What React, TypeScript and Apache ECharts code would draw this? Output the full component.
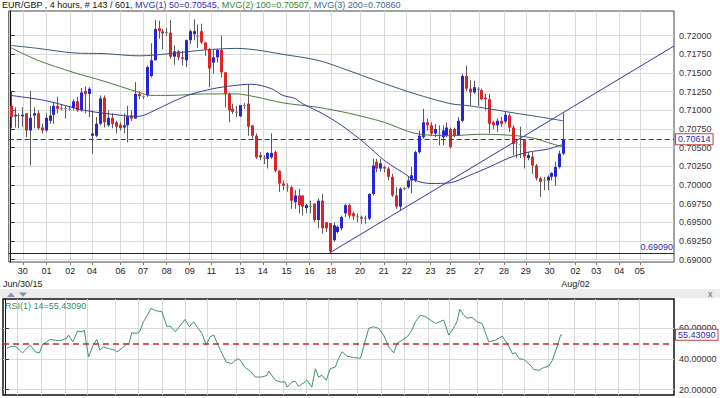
import React, { useEffect, useRef } from 'react';
import * as echarts from 'echarts';

// ---------- data ----------
const pair = 'EUR/GBP';
const timeframe = '4 hours';
const barsShown = 143;
const barsTotal = 601;
const slotCount = 171; // 143 bars + empty space to the right

// [open, close, low, high]
const candles: number[][] = [
  [0.7106, 0.7091, 0.7076, 0.7126], [0.7092, 0.7094, 0.7077, 0.7104], [0.7094, 0.7094, 0.7076, 0.7096], [0.7092, 0.7094, 0.7078, 0.7104],
  [0.7096, 0.7073, 0.7064, 0.7096], [0.7073, 0.7090, 0.7026, 0.7126], [0.7093, 0.7096, 0.7076, 0.7104], [0.7096, 0.7076, 0.7074, 0.7100],
  [0.7077, 0.7073, 0.7069, 0.7082], [0.7073, 0.7090, 0.7071, 0.7096], [0.7086, 0.7093, 0.7082, 0.7106], [0.7094, 0.7106, 0.7082, 0.7111],
  [0.7106, 0.7102, 0.7096, 0.7118], [0.7103, 0.7103, 0.7100, 0.7107], [0.7103, 0.7103, 0.7089, 0.7106], [0.7102, 0.7102, 0.7100, 0.7106],
  [0.7103, 0.7112, 0.7100, 0.7115], [0.7112, 0.7100, 0.7098, 0.7118], [0.7100, 0.7124, 0.7098, 0.7130], [0.7126, 0.7122, 0.7096, 0.7132],
  [0.7122, 0.7129, 0.7091, 0.7131], [0.7066, 0.7069, 0.7042, 0.7100], [0.7066, 0.7082, 0.7064, 0.7091], [0.7082, 0.7116, 0.7080, 0.7120],
  [0.7117, 0.7084, 0.7077, 0.7120], [0.7080, 0.7090, 0.7078, 0.7100], [0.7090, 0.7082, 0.7076, 0.7096], [0.7084, 0.7078, 0.7069, 0.7086],
  [0.7081, 0.7076, 0.7073, 0.7084], [0.7077, 0.7080, 0.7069, 0.7096], [0.7080, 0.7092, 0.7057, 0.7106], [0.7093, 0.7089, 0.7086, 0.7100],
  [0.7089, 0.7122, 0.7089, 0.7138], [0.7122, 0.7119, 0.7115, 0.7126], [0.7119, 0.7119, 0.7115, 0.7120], [0.7120, 0.7158, 0.7118, 0.7160],
  [0.7146, 0.7167, 0.7144, 0.7190], [0.7167, 0.7209, 0.7167, 0.7221], [0.7210, 0.7206, 0.7196, 0.7220], [0.7206, 0.7203, 0.7182, 0.7209],
  [0.7205, 0.7205, 0.7200, 0.7210], [0.7204, 0.7172, 0.7169, 0.7221], [0.7172, 0.7179, 0.7161, 0.7187], [0.7179, 0.7171, 0.7167, 0.7181],
  [0.7171, 0.7169, 0.7160, 0.7180], [0.7167, 0.7194, 0.7158, 0.7195], [0.7194, 0.7206, 0.7189, 0.7208], [0.7202, 0.7206, 0.7194, 0.7222],
  [0.7200, 0.7200, 0.7184, 0.7215], [0.7206, 0.7191, 0.7189, 0.7216], [0.7191, 0.7182, 0.7173, 0.7191], [0.7182, 0.7156, 0.7131, 0.7184],
  [0.7164, 0.7171, 0.7149, 0.7182], [0.7171, 0.7181, 0.7164, 0.7182], [0.7181, 0.7151, 0.7144, 0.7200], [0.7151, 0.7122, 0.7104, 0.7151],
  [0.7122, 0.7100, 0.7084, 0.7124], [0.7102, 0.7098, 0.7095, 0.7109], [0.7098, 0.7098, 0.7091, 0.7106], [0.7092, 0.7107, 0.7091, 0.7107],
  [0.7107, 0.7107, 0.7102, 0.7110], [0.7109, 0.7078, 0.7066, 0.7135], [0.7080, 0.7066, 0.7062, 0.7080], [0.7066, 0.7037, 0.7035, 0.7069],
  [0.7040, 0.7037, 0.7033, 0.7044], [0.7037, 0.7037, 0.7028, 0.7040], [0.7035, 0.7043, 0.7022, 0.7044], [0.7037, 0.7043, 0.7035, 0.7069],
  [0.7044, 0.7019, 0.7017, 0.7046], [0.7019, 0.7002, 0.6991, 0.7020], [0.7002, 0.6999, 0.6993, 0.7006], [0.6998, 0.6998, 0.6991, 0.7002],
  [0.6997, 0.6979, 0.6968, 0.6999], [0.6977, 0.6986, 0.6968, 0.6993], [0.6986, 0.6973, 0.6962, 0.6995], [0.6986, 0.6971, 0.6959, 0.6986],
  [0.6969, 0.6973, 0.6962, 0.6975], [0.6972, 0.6972, 0.6962, 0.6979], [0.6975, 0.6953, 0.6950, 0.6975], [0.6953, 0.6979, 0.6942, 0.6982],
  [0.6979, 0.6942, 0.6935, 0.6988], [0.6950, 0.6942, 0.6937, 0.6950], [0.6949, 0.6911, 0.6909, 0.6949], [0.6926, 0.6946, 0.6924, 0.6950],
  [0.6937, 0.6944, 0.6935, 0.6946], [0.6942, 0.6957, 0.6939, 0.6959], [0.6962, 0.6973, 0.6957, 0.6975], [0.6973, 0.6959, 0.6955, 0.6975],
  [0.6962, 0.6958, 0.6953, 0.6964], [0.6958, 0.6958, 0.6950, 0.6962], [0.6957, 0.6955, 0.6948, 0.6959], [0.6956, 0.6956, 0.6948, 0.6959],
  [0.6955, 0.6988, 0.6953, 0.6989], [0.6988, 0.7026, 0.6986, 0.7035], [0.7031, 0.7022, 0.7017, 0.7035], [0.7022, 0.7029, 0.7018, 0.7035],
  [0.7024, 0.7022, 0.7017, 0.7026], [0.7022, 0.7011, 0.7006, 0.7024], [0.7011, 0.6986, 0.6984, 0.7015], [0.6986, 0.6971, 0.6968, 0.6997],
  [0.6971, 0.6995, 0.6966, 0.6997], [0.6996, 0.6996, 0.6993, 0.6997], [0.6997, 0.7006, 0.6995, 0.7011], [0.7006, 0.7013, 0.6989, 0.7024],
  [0.7006, 0.7044, 0.7004, 0.7046], [0.7044, 0.7066, 0.7042, 0.7073], [0.7064, 0.7084, 0.7062, 0.7102], [0.7084, 0.7080, 0.7073, 0.7089],
  [0.7080, 0.7069, 0.7066, 0.7084], [0.7069, 0.7075, 0.7064, 0.7082], [0.7069, 0.7069, 0.7053, 0.7080], [0.7064, 0.7073, 0.7053, 0.7080],
  [0.7066, 0.7077, 0.7064, 0.7084], [0.7075, 0.7051, 0.7049, 0.7077], [0.7075, 0.7066, 0.7064, 0.7077], [0.7066, 0.7086, 0.7066, 0.7091],
  [0.7086, 0.7146, 0.7084, 0.7149], [0.7146, 0.7129, 0.7126, 0.7160], [0.7129, 0.7124, 0.7106, 0.7140], [0.7124, 0.7131, 0.7122, 0.7140],
  [0.7129, 0.7129, 0.7106, 0.7131], [0.7127, 0.7115, 0.7113, 0.7129], [0.7117, 0.7115, 0.7100, 0.7122], [0.7115, 0.7082, 0.7069, 0.7122],
  [0.7084, 0.7080, 0.7075, 0.7086], [0.7080, 0.7086, 0.7071, 0.7089], [0.7086, 0.7082, 0.7078, 0.7091], [0.7085, 0.7094, 0.7082, 0.7098],
  [0.7093, 0.7077, 0.7071, 0.7096], [0.7077, 0.7055, 0.7040, 0.7080], [0.7057, 0.7057, 0.7036, 0.7062], [0.7055, 0.7055, 0.7036, 0.7078],
  [0.7060, 0.7038, 0.7022, 0.7060], [0.7036, 0.7040, 0.7033, 0.7044], [0.7038, 0.7026, 0.7015, 0.7044], [0.7026, 0.7009, 0.7006, 0.7028],
  [0.7009, 0.7004, 0.6984, 0.7011], [0.7007, 0.7007, 0.6993, 0.7011], [0.7006, 0.7011, 0.6993, 0.7013], [0.7011, 0.7016, 0.7006, 0.7017],
  [0.7011, 0.7024, 0.6999, 0.7031], [0.7024, 0.7042, 0.7022, 0.7046], [0.7042, 0.70614, 0.7040, 0.7096],
];

// moving averages, read as [bar index, value]
const ma50: number[][] = [
  [0, 0.7120], [9, 0.7113], [19, 0.7100], [29, 0.7093], [33, 0.7092], [37, 0.7100], [41, 0.7110], [46, 0.7121],
  [52, 0.7129], [57, 0.7133], [62, 0.7135], [67, 0.7129], [70, 0.7120], [73, 0.7116], [75, 0.7109], [80, 0.7096],
  [85, 0.7080], [91, 0.7056], [96, 0.7033], [101, 0.7016], [104, 0.7006], [108, 0.7002], [113, 0.7003], [118, 0.7013],
  [123, 0.7024], [128, 0.7036], [133, 0.7044], [138, 0.7048], [142, 0.70545],
];
const ma100: number[][] = [
  [0, 0.7184], [7, 0.7167], [16, 0.7151], [24, 0.7139], [33, 0.7124], [36, 0.7120], [41, 0.7120], [50, 0.7122],
  [58, 0.7122], [63, 0.7118], [70, 0.7110], [79, 0.7104], [87, 0.7096], [96, 0.7084], [104, 0.7069], [113, 0.7066],
  [121, 0.7068], [130, 0.7066], [135, 0.7062], [138, 0.7057], [142, 0.70507],
];
const ma200: number[][] = [
  [0, 0.7187], [7, 0.7183], [16, 0.7177], [24, 0.7176], [33, 0.7173], [41, 0.7176], [50, 0.7181], [58, 0.7183],
  [63, 0.7181], [70, 0.7175], [79, 0.7167], [87, 0.7153], [96, 0.7136], [104, 0.7122], [113, 0.7109], [118, 0.7106],
  [123, 0.7102], [130, 0.7096], [135, 0.7092], [142, 0.7086],
];
const ma50Last = 0.70545;
const ma100Last = 0.70507;
const ma200Last = 0.7086;

// RSI(14), read as [bar index, value]
const rsi14: number[][] = [
  [0.4, 46.6], [1.3, 47.7], [2.6, 48.1], [4.5, 43.8], [6.4, 48.8], [7.7, 44.5], [8.8, 43.8], [9.6, 49.4],
  [10.6, 50.9], [11.5, 52.5], [12.8, 52.0], [14.0, 51.6], [15.7, 53.1], [16.2, 55.3], [17.3, 50.9], [18.5, 57.9],
  [19.6, 57.4], [20.2, 58.5], [21.3, 41.2], [22.5, 48.8], [23.4, 52.5], [24.2, 45.5], [25.1, 47.7], [26.4, 46.6],
  [28.1, 45.5], [28.5, 44.5], [29.8, 46.6], [31.1, 49.9], [31.5, 48.8], [32.3, 56.8], [33.6, 56.4], [34.3, 57.4],
  [35.3, 63.9], [36.1, 67.2], [37.2, 72.6], [38.3, 71.1], [40.0, 70.4], [41.3, 60.7], [42.1, 61.1], [43.4, 57.4],
  [45.1, 62.8], [45.9, 65.4], [47.0, 60.7], [48.1, 63.9], [48.9, 60.7], [50.2, 56.4], [51.3, 48.8], [52.3, 54.2],
  [53.2, 55.3], [54.9, 45.5], [56.4, 37.9], [57.8, 36.9], [59.3, 40.1], [60.0, 39.0], [61.2, 34.3], [62.5, 32.1],
  [63.8, 28.2], [65.5, 28.2], [66.8, 29.3], [67.2, 32.1], [68.9, 26.1], [70.2, 25.0], [71.4, 25.0], [71.9, 21.7],
  [73.1, 25.0], [74.0, 25.4], [74.8, 22.2], [76.5, 25.0], [77.0, 26.1], [78.2, 21.7], [79.1, 33.6], [79.9, 28.2],
  [80.8, 29.3], [81.9, 26.1], [82.9, 33.6], [84.2, 34.7], [85.0, 40.1], [85.9, 44.5], [87.2, 41.6], [88.9, 40.8],
  [90.6, 40.3], [91.4, 47.7], [92.7, 59.6], [94.0, 60.7], [95.2, 59.6], [96.5, 55.3], [97.8, 47.7], [99.1, 43.8],
  [99.9, 49.9], [101.2, 52.0], [102.5, 54.2], [103.7, 58.5], [104.6, 63.9], [105.9, 68.2], [107.2, 67.2], [108.4, 65.0],
  [109.7, 62.8], [111.8, 65.0], [113.1, 55.3], [114.0, 58.5], [115.2, 63.9], [115.9, 71.9], [116.9, 68.2], [117.8, 66.1],
  [119.1, 66.7], [120.3, 63.9], [121.6, 62.8], [122.5, 56.4], [123.3, 50.9], [125.0, 52.0], [126.7, 54.6], [128.0, 49.9],
  [129.3, 43.4], [130.1, 43.8], [131.0, 40.1], [132.2, 39.5], [133.5, 36.9], [134.8, 33.0], [136.1, 32.6], [137.3, 34.3],
  [138.6, 35.2], [139.5, 39.0], [140.7, 47.7], [141.6, 55.3], [142, 55.4309],
];
const rsiLast = 55.4309;
const rsiMid = 50;

const lastPrice = 0.70614;
const supportLevel = 0.6909;
const trendLine: number[][] = [[82, 0.6909], [170.5, 0.71862]];

const dayTickIndex = [3.1, 9.2, 15.3, 20.9, 28.2, 34.0, 40.1, 46.0, 51.6, 58.9, 64.8, 70.9, 76.8, 82.4, 89.8, 95.9, 101.8, 107.9, 113.1, 120.4, 126.8, 132.4, 138.5, 145.2, 150.5, 156.4, 161.7];
const dayTickLabel = ['30', '01', '02', '04', '06', '07', '08', '09', '11', '13', '14', '15', '16', '18', '20', '21', '22', '23', '25', '27', '28', '29', '30', '02', '03', '04', '05'];
const monthTickIndex = [3.1, 145.2];
const monthTickLabel = ['Jun/30/15', 'Aug/02'];

const priceTicks = [0.69, 0.6925, 0.695, 0.6975, 0.7, 0.7025, 0.705, 0.7075, 0.71, 0.7125, 0.715, 0.7175, 0.72];
const rsiTicks = [20, 40, 60];

// ---------- chart ----------
const FONT = '"Liberation Sans", Arial, sans-serif';
const GRID_COLOR = '#d9d9d9';
const UP = '#2424d8';
const DOWN = '#e02424';
const X_MIN = -0.5;
const X_MAX = slotCount - 0.5;

export default function App() {
  const ref = useRef<HTMLDivElement>(null);

  useEffect(() => {
    if (!ref.current) return;
    const chart = echarts.init(ref.current, undefined, { renderer: 'svg' });

    const lookup = (idx: number[], labels: string[]) => (v: number) => {
      const k = idx.findIndex((t) => Math.abs(t - v) < 1e-6);
      return k < 0 ? '' : labels[k];
    };

    const xCommon = { type: 'value', min: X_MIN, max: X_MAX };
    const hLine = (v: number) => [{ coord: [X_MIN, v] }, { coord: [X_MAX, v] }];

    const boxLabel = (txt: string) => ({
      show: true, position: 'end', distance: 2, formatter: txt,
      color: '#2a2ab8', fontSize: 9, fontFamily: FONT, backgroundColor: '#fff',
      borderColor: '#c04040', borderWidth: 1, padding: [1, 2, 0, 2],
    });

    const option: any = {
      animation: false,
      backgroundColor: '#ffffff',
      grid: [
        { left: 3, right: 46, top: 11, height: 251, show: true, borderColor: '#444', borderWidth: 1, backgroundColor: '#fff' },
        { left: 3, right: 46, top: 299, height: 96, show: true, borderColor: '#111', borderWidth: 1.5, backgroundColor: '#fff' },
      ],
      xAxis: [
        {
          ...xCommon, gridIndex: 0, position: 'bottom',
          axisLine: { show: false },
          axisTick: { show: true, customValues: dayTickIndex, length: 3, lineStyle: { color: '#777' } },
          axisLabel: { customValues: dayTickIndex, formatter: lookup(dayTickIndex, dayTickLabel), fontSize: 9, fontFamily: FONT, color: '#222', margin: 4 },
          splitLine: { show: true, lineStyle: { color: GRID_COLOR, width: 1 } },
        },
        {
          ...xCommon, gridIndex: 1,
          axisLine: { show: false },
          axisTick: { show: false, customValues: dayTickIndex },
          axisLabel: { show: false, customValues: dayTickIndex },
          splitLine: { show: true, lineStyle: { color: GRID_COLOR, width: 1 } },
        },
        {
          ...xCommon, gridIndex: 0, position: 'bottom',
          axisLine: { show: false },
          axisTick: { show: false, customValues: monthTickIndex },
          axisLabel: {
            customValues: monthTickIndex, formatter: lookup(monthTickIndex, monthTickLabel),
            fontSize: 9, fontFamily: FONT, color: '#222', margin: 17, showMinLabel: true, showMaxLabel: true,
          },
          splitLine: { show: false },
        },
      ],
      yAxis: [
        {
          type: 'value', gridIndex: 0, position: 'right', min: 0.68968, max: 0.72331,
          axisLine: { show: true, lineStyle: { color: '#111' } },
          axisTick: { show: true, customValues: priceTicks, length: 4, lineStyle: { color: '#333' } },
          axisLabel: { customValues: priceTicks, formatter: (v: number) => v.toFixed(5), fontSize: 9, fontFamily: FONT, color: '#333', margin: 5 },
          splitLine: { show: true, lineStyle: { color: GRID_COLOR, width: 1 } },
        },
        {
          type: 'value', gridIndex: 1, position: 'right', min: 16.6, max: 78.6,
          axisLine: { show: true, lineStyle: { color: '#111' } },
          axisTick: { show: true, customValues: rsiTicks, length: 4, lineStyle: { color: '#333' } },
          axisLabel: { customValues: rsiTicks, formatter: (v: number) => v.toFixed(5), fontSize: 9, fontFamily: FONT, color: '#333', margin: 5 },
          splitLine: { show: true, lineStyle: { color: GRID_COLOR, width: 1 } },
        },
      ],
      series: [
        {
          type: 'custom', name: 'candles', xAxisIndex: 0, yAxisIndex: 0, clip: true, z: 3,
          data: candles.map((c, i) => [i, c[0], c[1], c[2], c[3]]),
          encode: { x: 0, y: [1, 2, 3, 4] },
          renderItem: (params: any, api: any) => {
            const i = api.value(0);
            const o = api.value(1), c = api.value(2), l = api.value(3), h = api.value(4);
            const pH = api.coord([i, h]);
            const pL = api.coord([i, l]);
            const pO = api.coord([i, o]);
            const pC = api.coord([i, c]);
            const x = Math.round(pH[0]) + 0.5;
            const top = Math.min(pO[1], pC[1]);
            const bot = Math.max(pO[1], pC[1]);
            const color = c === o ? '#8a8a8a' : c > o ? UP : DOWN;
            return {
              type: 'group',
              children: [
                { type: 'line', shape: { x1: x, y1: pH[1], x2: x, y2: pL[1] }, style: { stroke: '#5a5a5a', lineWidth: 1 } },
                { type: 'rect', shape: { x: x - 1.5, y: top, width: 3, height: Math.max(bot - top, 1) }, style: { fill: color } },
              ],
            };
          },
        },
        { type: 'line', name: 'MA200', xAxisIndex: 0, yAxisIndex: 0, data: ma200, showSymbol: false, smooth: 0.3, z: 4, lineStyle: { color: '#34587a', width: 1 } },
        { type: 'line', name: 'MA100', xAxisIndex: 0, yAxisIndex: 0, data: ma100, showSymbol: false, smooth: 0.3, z: 4, lineStyle: { color: '#4a7a3c', width: 1 } },
        { type: 'line', name: 'MA50', xAxisIndex: 0, yAxisIndex: 0, data: ma50, showSymbol: false, smooth: 0.3, z: 4, lineStyle: { color: '#3a3a9e', width: 1 } },
        {
          type: 'line', name: 'trend', xAxisIndex: 0, yAxisIndex: 0, data: trendLine, showSymbol: false, z: 5,
          lineStyle: { color: '#3434a4', width: 1 },
          markLine: {
            silent: true, symbol: 'none', animation: false, precision: 6,
            data: [
              [
                { ...hLine(lastPrice)[0], lineStyle: { type: [5, 3], color: '#2c2c9c', width: 1 }, label: boxLabel(lastPrice.toFixed(5)) },
                hLine(lastPrice)[1],
              ],
              [
                {
                  ...hLine(supportLevel)[0],
                  lineStyle: { type: 'solid', color: '#1c1c6c', width: 1 },
                  label: { show: true, position: 'insideEndTop', distance: 1, formatter: supportLevel.toFixed(5), color: '#2a2aa8', fontSize: 9, fontFamily: FONT },
                },
                hLine(supportLevel)[1],
              ],
            ],
          },
        },
        {
          type: 'line', name: 'RSI', xAxisIndex: 1, yAxisIndex: 1, data: rsi14, showSymbol: false, z: 4,
          lineStyle: { color: '#3a9468', width: 1 },
          markLine: {
            silent: true, symbol: 'none', animation: false, precision: 6,
            data: [
              [{ ...hLine(rsiMid)[0], lineStyle: { type: [6, 4], color: '#c42a2a', width: 1.5 }, label: { show: false } }, hLine(rsiMid)[1]],
              [{ ...hLine(rsiLast)[0], lineStyle: { color: 'rgba(0,0,0,0)', width: 0 }, label: boxLabel(rsiLast.toFixed(5)) }, hLine(rsiLast)[1]],
            ],
          },
        },
      ],
      graphic: [
        {
          type: 'text', left: 2, top: 0, z: 10,
          style: {
            text:
              '{k|' + pair + ' , ' + timeframe + ', # ' + barsShown + ' / ' + barsTotal + ', }' +
              '{a|MVG(1) 50=' + ma50Last.toFixed(5) + ', }' +
              '{b|MVG(2) 100=' + ma100Last.toFixed(5) + ', }' +
              '{c|MVG(3) 200=' + ma200Last.toFixed(5) + '}',
            fontSize: 9, fontFamily: FONT,
            rich: {
              k: { fill: '#111', fontSize: 9, fontFamily: FONT },
              a: { fill: '#3030a8', fontSize: 9, fontFamily: FONT },
              b: { fill: '#2f8a34', fontSize: 9, fontFamily: FONT },
              c: { fill: '#3a6a8e', fontSize: 9, fontFamily: FONT },
            },
          },
        },
        { type: 'rect', z: 1, shape: { x: 0, y: 289, width: 720, height: 9 }, style: { fill: '#ececec' } },
        { type: 'polygon', z: 2, shape: { points: [[7, 297], [15, 297], [11, 292.5]] }, style: { fill: '#8494ac' } },
        { type: 'polygon', z: 2, shape: { points: [[19, 292.5], [27, 292.5], [23, 297]] }, style: { fill: '#8494ac' } },
        { type: 'text', z: 2, left: 708, top: 289, style: { text: 'x', fontSize: 9, fontFamily: FONT, fill: '#666' } },
        {
          type: 'text', left: 5, top: 301, z: 10,
          style: { text: 'RSI(1) 14=' + rsiLast.toFixed(5), fontSize: 9, fontFamily: FONT, fill: '#3a8a5a' },
        },
      ],
    };

    chart.setOption(option);
    return () => chart.dispose();
  }, []);

  return (
    <div style={{ position: 'fixed', left: 0, top: 0, width: 720, height: 398, background: '#fff' }}>
      <div ref={ref} style={{ width: 720, height: 398 }} />
    </div>
  );
}
